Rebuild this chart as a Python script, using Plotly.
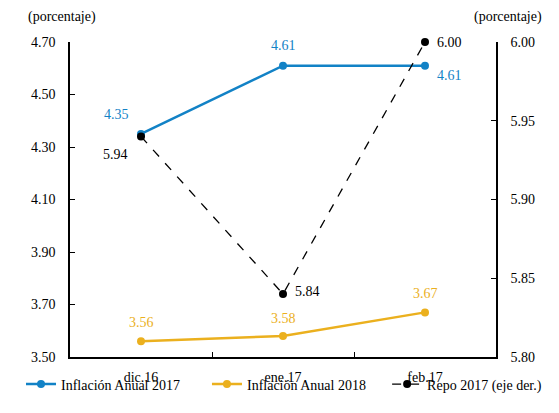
import plotly.graph_objects as go

# Categories and series
meses = ["dic.16", "ene.17", "feb.17"]
inflacion_2017 = [4.35, 4.61, 4.61]
inflacion_2018 = [3.56, 3.58, 3.67]
repo_2017 = [5.94, 5.84, 6.00]

# Tick values for both axes
ticks_izq = [3.50, 3.70, 3.90, 4.10, 4.30, 4.50, 4.70]
ticks_der = [5.80, 5.85, 5.90, 5.95, 6.00]

AZUL = "#1282C6"
AMBAR = "#EBB01E"
NEGRO = "#000000"
FUENTE = "Tinos, Liberation Serif, serif"
TAM = 14

fig = go.Figure()

fig.add_trace(go.Scatter(
    x=meses, y=inflacion_2017, name="Inflación Anual 2017",
    mode="lines+markers", legend="legend",
    line=dict(color=AZUL, width=2.5),
    marker=dict(color=AZUL, size=8),
    cliponaxis=False,
))

fig.add_trace(go.Scatter(
    x=meses, y=inflacion_2018, name="Inflación Anual 2018",
    mode="lines+markers", legend="legend2",
    line=dict(color=AMBAR, width=2.5),
    marker=dict(color=AMBAR, size=8),
    cliponaxis=False,
))

fig.add_trace(go.Scatter(
    x=meses, y=repo_2017, name="Repo 2017 (eje der.)",
    yaxis="y2", legend="legend3",
    mode="lines+markers",
    line=dict(color=NEGRO, width=1.3, dash="dash"),
    marker=dict(color=NEGRO, size=8),
    cliponaxis=False,
))

# Data labels: (series values, axis, colour, pixel offsets per point)
etiquetas = [
    (inflacion_2017, "y", AZUL, [(-25, 19), (0, 20), (24, -10)]),
    (inflacion_2018, "y", AMBAR, [(0, 19), (0, 18), (0, 19)]),
    (repo_2017, "y2", NEGRO, [(-26, -18), (24, 3), (24, 0)]),
]

anotaciones = []
for valores, eje, color, desplaz in etiquetas:
    for mes, v, (dx, dy) in zip(meses, valores, desplaz):
        anotaciones.append(dict(
            x=mes, y=v, xref="x", yref=eje, text=f"{v:.2f}",
            showarrow=False, xshift=dx, yshift=dy,
            font=dict(color=color, size=TAM, family=FUENTE),
        ))

anotaciones += [
    dict(text="(porcentaje)", xref="paper", yref="paper", x=0.0, y=1.0,
         xanchor="center", yanchor="bottom", yshift=15, xshift=-8, showarrow=False,
         font=dict(size=TAM, family=FUENTE)),
    dict(text="(porcentaje)", xref="paper", yref="paper", x=1.0, y=1.0,
         xanchor="center", yanchor="bottom", yshift=15, xshift=12, showarrow=False,
         font=dict(size=TAM, family=FUENTE)),
]

# One single-entry legend per series, laid out in a row under the x axis
estilo_leyenda = dict(
    orientation="h", y=-0.138, yanchor="bottom",
    font=dict(size=TAM, family=FUENTE),
    itemwidth=30, bgcolor="rgba(0,0,0,0)",
)

fig.update_layout(
    width=559, height=413,
    margin=dict(l=70, r=55, t=42, b=46),
    paper_bgcolor="white", plot_bgcolor="white",
    font=dict(family=FUENTE, size=TAM, color="#000000"),
    showlegend=True,
    xaxis=dict(
        type="category", range=[-0.5, 2.5],
        showline=True, linecolor="#000000", linewidth=1.5,
        ticks="inside", tickson="boundaries", ticklen=5, tickcolor="#000000",
        showgrid=False, zeroline=False,
        tickfont=dict(size=TAM, family=FUENTE),
        ticklabelstandoff=6,
    ),
    yaxis=dict(
        range=[3.50, 4.70],
        tickvals=ticks_izq, ticktext=[f"{v:.2f}" for v in ticks_izq],
        showline=True, linecolor="#000000", linewidth=1.5,
        ticks="inside", ticklen=5, tickcolor="#000000",
        showgrid=False, zeroline=False,
        tickfont=dict(size=TAM, family=FUENTE),
        ticklabelstandoff=10,
    ),
    yaxis2=dict(
        range=[5.80, 6.00], overlaying="y", side="right",
        tickvals=ticks_der, ticktext=[f"{v:.2f}" for v in ticks_der],
        showline=True, linecolor="#000000", linewidth=1.5,
        ticks="inside", ticklen=5, tickcolor="#000000",
        showgrid=False, zeroline=False,
        tickfont=dict(size=TAM, family=FUENTE),
        ticklabelstandoff=10,
    ),
    legend=dict(estilo_leyenda, x=-0.115, xanchor="left"),
    legend2=dict(estilo_leyenda, x=0.514, xanchor="center"),
    legend3=dict(estilo_leyenda, x=1.12, xanchor="right"),
    annotations=anotaciones,
)

fig.write_html("out.html")
